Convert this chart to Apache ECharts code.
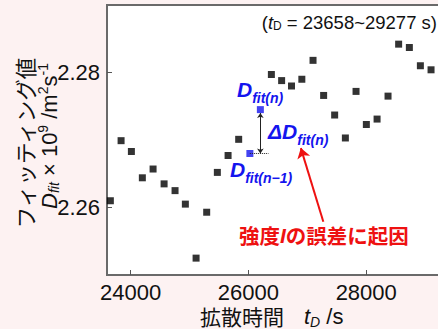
<!DOCTYPE html>
<html><head><meta charset="utf-8">
<script src="https://cdn.jsdelivr.net/npm/echarts@6/dist/echarts.min.js"></script>
<style>html,body{margin:0;padding:0;background:#fdf2f2;}#c{width:438px;height:329px;}</style>
</head><body><div id="c"></div>
<script>
// diffusion time t_D (s) and fitted D (x1e-9 m^2/s)
const tD = [23657, 23839, 24014, 24200, 24382, 24569, 24755, 24930, 25112, 25292, 25473, 25655, 25835,
            26390, 26564, 26732, 26907, 27097, 27277, 27464, 27646, 27827, 28002, 28184, 28370, 28550, 28732, 28919, 29100];
const Dfit = [2.2610, 2.2699, 2.2683, 2.2644, 2.2657, 2.2635, 2.2625, 2.2605, 2.2525, 2.2593, 2.2652, 2.2677, 2.2701,
              2.2797, 2.2788, 2.2780, 2.2790, 2.2818, 2.2766, 2.2737, 2.2703, 2.2772, 2.2723, 2.2731, 2.2765, 2.2842, 2.2837, 2.2810, 2.2804];
// highlighted points D_fit(n-1), D_fit(n)
const hiT = [26025, 26203];
const hiD = [2.2680, 2.2745];
const xTicks = [24000, 26000, 28000];
const yTicks = [2.26, 2.28];
const xRange = [23600, 29600];
const yRange = [2.25, 2.29];
// annotation anchors (data coords)
const deltaArrowTop = 2.2740;
const dottedEndT = 26340;
const redArrowFrom = [27272, 2.2579];
const redArrowTo = [26890, 2.2688];

const FONT = "'Liberation Sans', Arial, sans-serif";
const CJK = "'Noto Sans CJK JP', sans-serif";
const BLUE = '#1414ee';
const RED = '#ee1111';
const INK = '#111';

const chart = echarts.init(document.getElementById('c'), null, {renderer: 'svg', width: 438, height: 329});

function r(size, extra) {
  return Object.assign({fontSize: size, fontFamily: FONT, fill: INK, verticalAlign: 'middle'}, extra || {});
}
function blueRich() {
  return {
    D: r(21, {fill: BLUE, fontWeight: 'bold', fontStyle: 'italic'}),
    s: r(14, {fill: BLUE, fontWeight: 'bold', fontStyle: 'italic', padding: [17, 0, 0, 0]})
  };
}

const option = {
  backgroundColor: '#fdf2f2',
  animation: false,
  grid: {left: 107, top: 5, width: 353.5, height: 270, show: true, backgroundColor: '#ffffff',
         borderColor: '#6a6a6a', borderWidth: 2, containLabel: false, outerBoundsMode: 'none'},
  xAxis: {
    type: 'value', min: xRange[0], max: xRange[1],
    axisLine: {show: false},
    axisTick: {inside: true, length: 5, customValues: xTicks, lineStyle: {color: '#555', width: 1}},
    axisLabel: {customValues: xTicks, fontSize: 22, fontFamily: FONT, color: INK, margin: 6,
                formatter: v => String(Math.round(v))},
    splitLine: {show: false}
  },
  yAxis: {
    type: 'value', min: yRange[0], max: yRange[1],
    axisLine: {show: false},
    axisTick: {inside: true, length: 5, customValues: yTicks, lineStyle: {color: '#555', width: 1}},
    axisLabel: {customValues: yTicks, fontSize: 22, fontFamily: FONT, color: INK, margin: 7,
                formatter: v => v.toFixed(2)},
    splitLine: {show: false}
  },
  series: [
    {
      type: 'scatter', symbol: 'rect', symbolSize: 7, itemStyle: {color: '#000'}, silent: true,
      data: tD.map((t, i) => [t, Dfit[i]]),
      markLine: {
        silent: true, symbol: ['none', 'arrow'], symbolSize: 10, label: {show: false},
        emphasis: {disabled: true},
        data: [
          [{coord: redArrowFrom, lineStyle: {color: RED, width: 2, type: 'solid'}, symbol: 'none'},
           {coord: redArrowTo, symbol: 'arrow', symbolSize: 10}],
          [{coord: [hiT[0], hiD[0]], lineStyle: {color: '#222', width: 1, type: 'dotted'}, symbol: 'none'},
           {coord: [dottedEndT, hiD[0]], symbol: 'none'}]
        ]
      }
    },
    {
      type: 'scatter', symbol: 'rect', symbolSize: 7, itemStyle: {color: BLUE}, silent: true,
      data: hiT.map((t, i) => [t, hiD[i]]), z: 3,
      markLine: {
        silent: true, symbol: ['arrow', 'arrow'], symbolSize: 5, label: {show: false},
        emphasis: {disabled: true},
        lineStyle: {color: '#222', width: 1, type: 'solid'},
        data: [[{coord: [hiT[1], hiD[0]]}, {coord: [hiT[1], deltaArrowTop]}]]
      }
    }
  ],
  graphic: [
    {type: 'text', x: 24, y: 143, rotation: Math.PI / 2, silent: true,
     style: {text: 'フィッティング値', fontSize: 21.5, fontFamily: CJK, fill: INK,
             textAlign: 'center', textVerticalAlign: 'middle'}},
    {type: 'text', x: 49, y: 136, rotation: Math.PI / 2, silent: true,
     style: {text: '{D|D}{sb|fit}{n| × 10}{sp|9}{n| /m}{sp|2}{n|s}{sp|-1}',
             textAlign: 'center', textVerticalAlign: 'middle',
             rich: {
               D: r(22, {fontStyle: 'italic'}),
               sb: r(14, {fontStyle: 'italic', padding: [10, 0, 0, 0]}),
               n: r(22),
               sp: r(14, {padding: [0, 0, 12, 0]})
             }}},
    {type: 'text', x: 437, y: 22.5, silent: true,
     style: {text: '{n|(}{it|t}{sb|D}{n| = 23658~29277 s)}', textAlign: 'right', textVerticalAlign: 'middle',
             rich: {n: r(18.5), it: r(18.5, {fontStyle: 'italic'}), sb: r(12, {padding: [7, 0, 0, 0]})}}},
    {type: 'text', x: 200, y: 316, silent: true,
     style: {text: '{c|拡散時間}{it|t}{sb|D}{n| /s}', textAlign: 'left', textVerticalAlign: 'middle',
             rich: {c: r(21, {fontFamily: CJK, height: 22}),
                    it: r(22, {fontStyle: 'italic', height: 22, padding: [0, 0, 0, 20]}),
                    sb: r(14, {fontStyle: 'italic', height: 10, padding: [12, 0, 0, 0]}),
                    n: r(22, {height: 22})}}},
    {type: 'text', x: 237, y: 89, silent: true,
     style: {text: '{D|D}{s|fit(n)}', textAlign: 'left', textVerticalAlign: 'middle', rich: blueRich()}},
    {type: 'text', x: 268, y: 131, silent: true,
     style: {text: '{D|ΔD}{s|fit(n)}', textAlign: 'left', textVerticalAlign: 'middle', rich: blueRich()}},
    {type: 'text', x: 230, y: 169, silent: true,
     style: {text: '{D|D}{s|fit(n−1)}', textAlign: 'left', textVerticalAlign: 'middle', rich: blueRich()}},
    {type: 'text', x: 239, y: 235, silent: true,
     style: {text: '{c|強度}{i|I}{c|の誤差に起因}', textAlign: 'left', textVerticalAlign: 'middle',
             rich: {c: r(20.5, {fontFamily: CJK, fill: RED, fontWeight: 'bold'}),
                    i: r(21, {fill: RED, fontWeight: 'bold', fontStyle: 'italic'})}}}
  ]
};
chart.setOption(option);
</script>
</body></html>
